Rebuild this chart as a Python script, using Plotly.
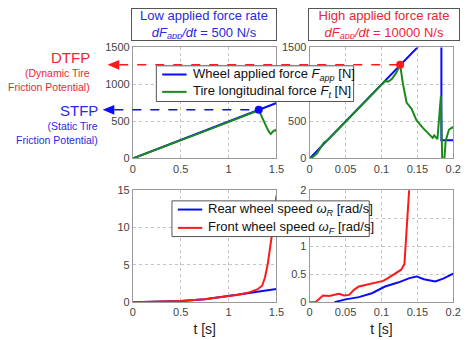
import plotly.graph_objects as go

# ---------------- data ----------------
# Top-left: low applied force rate (500 N/s)
t_app_low = [0, 1.5]
F_app_low = [0, 750]
t_Ft_low = [0, 0.2, 0.4, 0.6, 0.8, 1.0, 1.2, 1.315, 1.33, 1.36, 1.39, 1.42, 1.44, 1.47, 1.49, 1.5]
F_Ft_low = [0, 95, 195, 295, 393, 490, 592, 650, 612, 520, 440, 365, 330, 372, 385, 365]
stfp_t, stfp_F = 1.315, 657

# Top-right: high applied force rate (10000 N/s)
t_app_high = [0, 0.1835, 0.1835, 0.2]
F_app_high = [0, 1835, 245, 245]
t_Ft_high = [0, 0.005, 0.01, 0.015, 0.02, 0.025, 0.03, 0.035, 0.04, 0.045, 0.05, 0.055,
             0.06, 0.065, 0.07, 0.075, 0.08, 0.085, 0.09, 0.095, 0.1, 0.105, 0.11, 0.115,
             0.12, 0.126, 0.1298, 0.135, 0.142, 0.1487, 0.158, 0.1646, 0.1714, 0.1735,
             0.178, 0.1828, 0.1848, 0.1862, 0.188, 0.1895, 0.194, 0.1986, 0.2]
F_Ft_high = [0, 25, 65, 140, 215, 245, 290, 345, 395, 445, 505, 545,
             600, 650, 700, 752, 795, 850, 905, 950, 1000, 1045, 1040, 1080,
             1150, 1265, 1017, 756, 670, 517, 409, 343, 278, 310,
             260, 844, -100, -200, 100, 240, 387, 420, 415]
dtfp_t, dtfp_F = 0.126, 1265

# Bottom-left: wheel speeds, low rate
t_wR_low = [0, 0.25, 0.5, 0.75, 1.0, 1.1, 1.2, 1.3, 1.4, 1.5]
wR_low = [0, 0.05, 0.15, 0.4, 0.8, 1.0, 1.2, 1.4, 1.6, 1.75]
t_wF_low = [0, 0.25, 0.5, 0.75, 1.0, 1.1, 1.2, 1.3, 1.35, 1.38, 1.41, 1.43, 1.45, 1.47, 1.49, 1.5]
wF_low = [0, 0.05, 0.15, 0.4, 0.8, 1.0, 1.25, 1.7, 2.2, 3.3, 5.2, 6.8, 8.8, 11.0, 13.5, 14.3]

# Bottom-right: wheel speeds, high rate
t_wR_high = [0.0345, 0.05, 0.0685, 0.0867, 0.105, 0.123, 0.139, 0.149, 0.159, 0.175, 0.186, 0.2]
wR_high = [0, 0.05, 0.09, 0.16, 0.28, 0.35, 0.43, 0.46, 0.41, 0.37, 0.42, 0.51]
t_wF_high = [0, 0.008, 0.0186, 0.027, 0.041, 0.048, 0.055, 0.0617, 0.0685, 0.0776, 0.0867,
             0.0957, 0.1025, 0.109, 0.118, 0.1275, 0.132, 0.1342, 0.1365, 0.1388]
wF_high = [0, 0, 0.12, 0.11, 0.15, 0.12, 0.13, 0.22, 0.28, 0.31, 0.33,
           0.36, 0.38, 0.43, 0.5, 0.58, 0.68, 1.2, 1.67, 2.05]

# tick values / labels (labels hidden behind the legends in the original are blank)
yticks_force = [0, 500, 1000, 1500]
ylabels_force_left = ["0", "500", "1000", "1500"]
ylabels_force_right = ["0", "500", "", "1500"]
yticks_speed_high = [0, 0.5, 1, 1.5, 2]
ylabels_speed_high = ["0", "0.5", "1", "", "2"]

# legend labels
lbl_Fapp = "Wheel applied force <i>F</i><sub><i>app</i></sub> [N]"
lbl_Ft = "Tire longitudinal force <i>F</i><sub><i>t</i></sub> [N]"
lbl_wR = "Rear wheel speed <i>ω</i><sub><i>R</i></sub> [rad/s]"
lbl_wF = "Front wheel speed <i>ω</i><sub><i>F</i></sub> [rad/s]"

# ---------------- styles ----------------
W, H = 471, 340
BLUE = "#0a0aff"
GREEN = "#1a8a1a"
RED = "#ff1a1a"
TXT_RED = "#ef2535"
TXT_BLUE = "#2a2ae0"

def px_x(p):
    return p / W

def px_y(p):
    return 1 - p / H

dom_left = [px_x(133), px_x(280)]
dom_right = [px_x(314), px_x(461)]
dom_top = [px_y(158), px_y(43)]
dom_bot = [px_y(307), px_y(191)]

rng = {
    "x": [0, 1.5], "x2": [0, 0.2], "x3": [0, 1.5], "x4": [0, 0.2],
    "y": [0, 1500], "y2": [0, 1500], "y3": [0, 15], "y4": [0, 2],
}

def to_paper(xv, yv, xa, ya, xd, yd):
    xr, yr = rng[xa], rng[ya]
    px = xd[0] + (xv - xr[0]) / (xr[1] - xr[0]) * (xd[1] - xd[0])
    py = yd[0] + (yv - yr[0]) / (yr[1] - yr[0]) * (yd[1] - yd[0])
    return px, py

fig = go.Figure()

# top-left
fig.add_trace(go.Scatter(x=t_app_low, y=F_app_low, mode="lines", line=dict(color=BLUE, width=2),
                         name=lbl_Fapp, showlegend=False, xaxis="x", yaxis="y"))
fig.add_trace(go.Scatter(x=t_Ft_low, y=F_Ft_low, mode="lines", line=dict(color=GREEN, width=2),
                         name=lbl_Ft, showlegend=False, xaxis="x", yaxis="y"))
fig.add_trace(go.Scatter(x=[stfp_t], y=[stfp_F], mode="markers", marker=dict(color=BLUE, size=8),
                         showlegend=False, xaxis="x", yaxis="y"))
# top-right
fig.add_trace(go.Scatter(x=t_app_high, y=F_app_high, mode="lines", line=dict(color=BLUE, width=2),
                         showlegend=False, xaxis="x2", yaxis="y2"))
fig.add_trace(go.Scatter(x=t_Ft_high, y=F_Ft_high, mode="lines", line=dict(color=GREEN, width=2),
                         showlegend=False, xaxis="x2", yaxis="y2"))
fig.add_trace(go.Scatter(x=[dtfp_t], y=[dtfp_F], mode="markers", marker=dict(color=RED, size=8),
                         showlegend=False, xaxis="x2", yaxis="y2"))
# bottom-left
fig.add_trace(go.Scatter(x=t_wR_low, y=wR_low, mode="lines", line=dict(color=BLUE, width=2),
                         name=lbl_wR, showlegend=False, xaxis="x3", yaxis="y3"))
fig.add_trace(go.Scatter(x=t_wF_low, y=wF_low, mode="lines", line=dict(color=RED, width=2),
                         name=lbl_wF, showlegend=False, xaxis="x3", yaxis="y3"))
# bottom-right
fig.add_trace(go.Scatter(x=t_wR_high, y=wR_high, mode="lines", line=dict(color=BLUE, width=2),
                         showlegend=False, xaxis="x4", yaxis="y4"))
fig.add_trace(go.Scatter(x=t_wF_high, y=wF_high, mode="lines", line=dict(color=RED, width=2),
                         showlegend=False, xaxis="x4", yaxis="y4"))

axis_common = dict(showline=True, linecolor="#9a9a9a", linewidth=1, mirror=True,
                   showgrid=True, gridcolor="#c4c4c4", griddash="dot", gridwidth=1,
                   zeroline=False, ticks="", tickfont=dict(size=11, color="#444"),
                   fixedrange=True)

def xax(dom, anchor, r, dtick, title=None):
    d = dict(axis_common, domain=dom, anchor=anchor, range=r, dtick=dtick, tick0=0)
    if title:
        d["title"] = dict(text=title, font=dict(size=14, color="#222"), standoff=6)
    return d

def yax(dom, anchor, r, dtick=None, tickvals=None, ticktext=None):
    d = dict(axis_common, domain=dom, anchor=anchor, range=r)
    if tickvals is not None:
        d.update(tickmode="array", tickvals=tickvals, ticktext=ticktext)
    else:
        d.update(dtick=dtick, tick0=0)
    return d

fig.update_layout(
    width=W, height=H,
    margin=dict(l=0, r=0, t=0, b=0),
    paper_bgcolor="white", plot_bgcolor="white",
    showlegend=False,
    font=dict(family="Liberation Sans, Arial, sans-serif", color="#222"),
    xaxis=xax(dom_left, "y", rng["x"], 0.5),
    yaxis=yax(dom_top, "x", rng["y"], tickvals=yticks_force, ticktext=ylabels_force_left),
    xaxis2=xax(dom_right, "y2", rng["x2"], 0.05),
    yaxis2=yax(dom_top, "x2", rng["y2"], tickvals=yticks_force, ticktext=ylabels_force_right),
    xaxis3=xax(dom_left, "y3", rng["x3"], 0.5, "t [s]"),
    yaxis3=yax(dom_bot, "x3", rng["y3"], 5),
    xaxis4=xax(dom_right, "y4", rng["x4"], 0.05, "t [s]"),
    yaxis4=yax(dom_bot, "x4", rng["y4"], tickvals=yticks_speed_high, ticktext=ylabels_speed_high),
)

# dashed potential lines with arrowheads
sx, sy = to_paper(stfp_t, stfp_F, "x", "y", dom_left, dom_top)
dx, dy = to_paper(dtfp_t, dtfp_F, "x2", "y2", dom_right, dom_top)
arrow_tip_red = px_x(107)
arrow_tip_blue = px_x(102)
aw = 12 / W
ah = 5 / H

shapes = [
    dict(type="line", xref="paper", yref="paper", x0=arrow_tip_red + aw, x1=dx, y0=dy, y1=dy,
         line=dict(color=RED, width=1.5, dash="dash")),
    dict(type="line", xref="paper", yref="paper", x0=arrow_tip_blue + aw, x1=sx, y0=sy, y1=sy,
         line=dict(color=BLUE, width=1.5, dash="dash")),
    dict(type="path", xref="paper", yref="paper",
         path=f"M {arrow_tip_red},{dy} L {arrow_tip_red + aw},{dy + ah} L {arrow_tip_red + aw},{dy - ah} Z",
         fillcolor=RED, line=dict(color=RED, width=0)),
    dict(type="path", xref="paper", yref="paper",
         path=f"M {arrow_tip_blue},{sy} L {arrow_tip_blue + aw},{sy + ah} L {arrow_tip_blue + aw},{sy - ah} Z",
         fillcolor=BLUE, line=dict(color=BLUE, width=0)),
]

annotations = [
    dict(text="Low applied force rate<br><i>dF</i><sub><i>app</i></sub><i>/dt</i> = 500 N/s",
         x=px_x(206), y=px_y(19.5), xref="paper", yref="paper", xanchor="center", yanchor="middle",
         showarrow=False, font=dict(size=13, color=TXT_BLUE), bordercolor="#555", borderwidth=1,
         bgcolor="white", width=142, height=29, borderpad=1),
    dict(text="High applied force rate<br><i>dF</i><sub><i>app</i></sub><i>/dt</i> = 10000 N/s",
         x=px_x(390), y=px_y(19), xref="paper", yref="paper", xanchor="center", yanchor="middle",
         showarrow=False, font=dict(size=13, color=TXT_RED), bordercolor="#555", borderwidth=1,
         bgcolor="white", width=148, height=29, borderpad=1),
    dict(text="DTFP", x=px_x(91), y=px_y(53), xref="paper", yref="paper", xanchor="right",
         yanchor="middle", showarrow=False, font=dict(size=15, color=TXT_RED)),
    dict(text="(Dynamic Tire<br>Friction Potential)", x=px_x(91), y=px_y(77), xref="paper",
         yref="paper", xanchor="right", yanchor="middle", align="right", showarrow=False,
         font=dict(size=10.5, color=TXT_RED)),
    dict(text="STFP", x=px_x(99), y=px_y(108), xref="paper", yref="paper", xanchor="right",
         yanchor="middle", showarrow=False, font=dict(size=15, color=TXT_BLUE)),
    dict(text="(Static Tire<br>Friction Potential)", x=px_x(99), y=px_y(132), xref="paper",
         yref="paper", xanchor="right", yanchor="middle", align="right", showarrow=False,
         font=dict(size=10.5, color=TXT_BLUE)),
]

# compact legend boxes (box, line samples, labels)
def legend_box(x0, y0, x1, y1, items):
    shapes.append(dict(type="rect", xref="paper", yref="paper", x0=px_x(x0), x1=px_x(x1),
                       y0=px_y(y1), y1=px_y(y0), fillcolor="white",
                       line=dict(color="#555", width=1), layer="above"))
    for (ly, color, label) in items:
        shapes.append(dict(type="line", xref="paper", yref="paper", x0=px_x(x0 + 6), x1=px_x(x0 + 31),
                           y0=px_y(ly), y1=px_y(ly), line=dict(color=color, width=2), layer="above"))
        annotations.append(dict(text=label, x=px_x(x0 + 35), y=px_y(ly), xref="paper", yref="paper",
                                xanchor="left", yanchor="middle", showarrow=False,
                                font=dict(size=13, color="#111")))

legend_box(157, 62, 359, 99, [(71, BLUE, lbl_Fapp), (89, GREEN, lbl_Ft)])
legend_box(173, 202, 375, 239, [(211, BLUE, lbl_wR), (230, RED, lbl_wF)])

fig.update_layout(shapes=shapes, annotations=annotations)

fig.write_html("out.html")
